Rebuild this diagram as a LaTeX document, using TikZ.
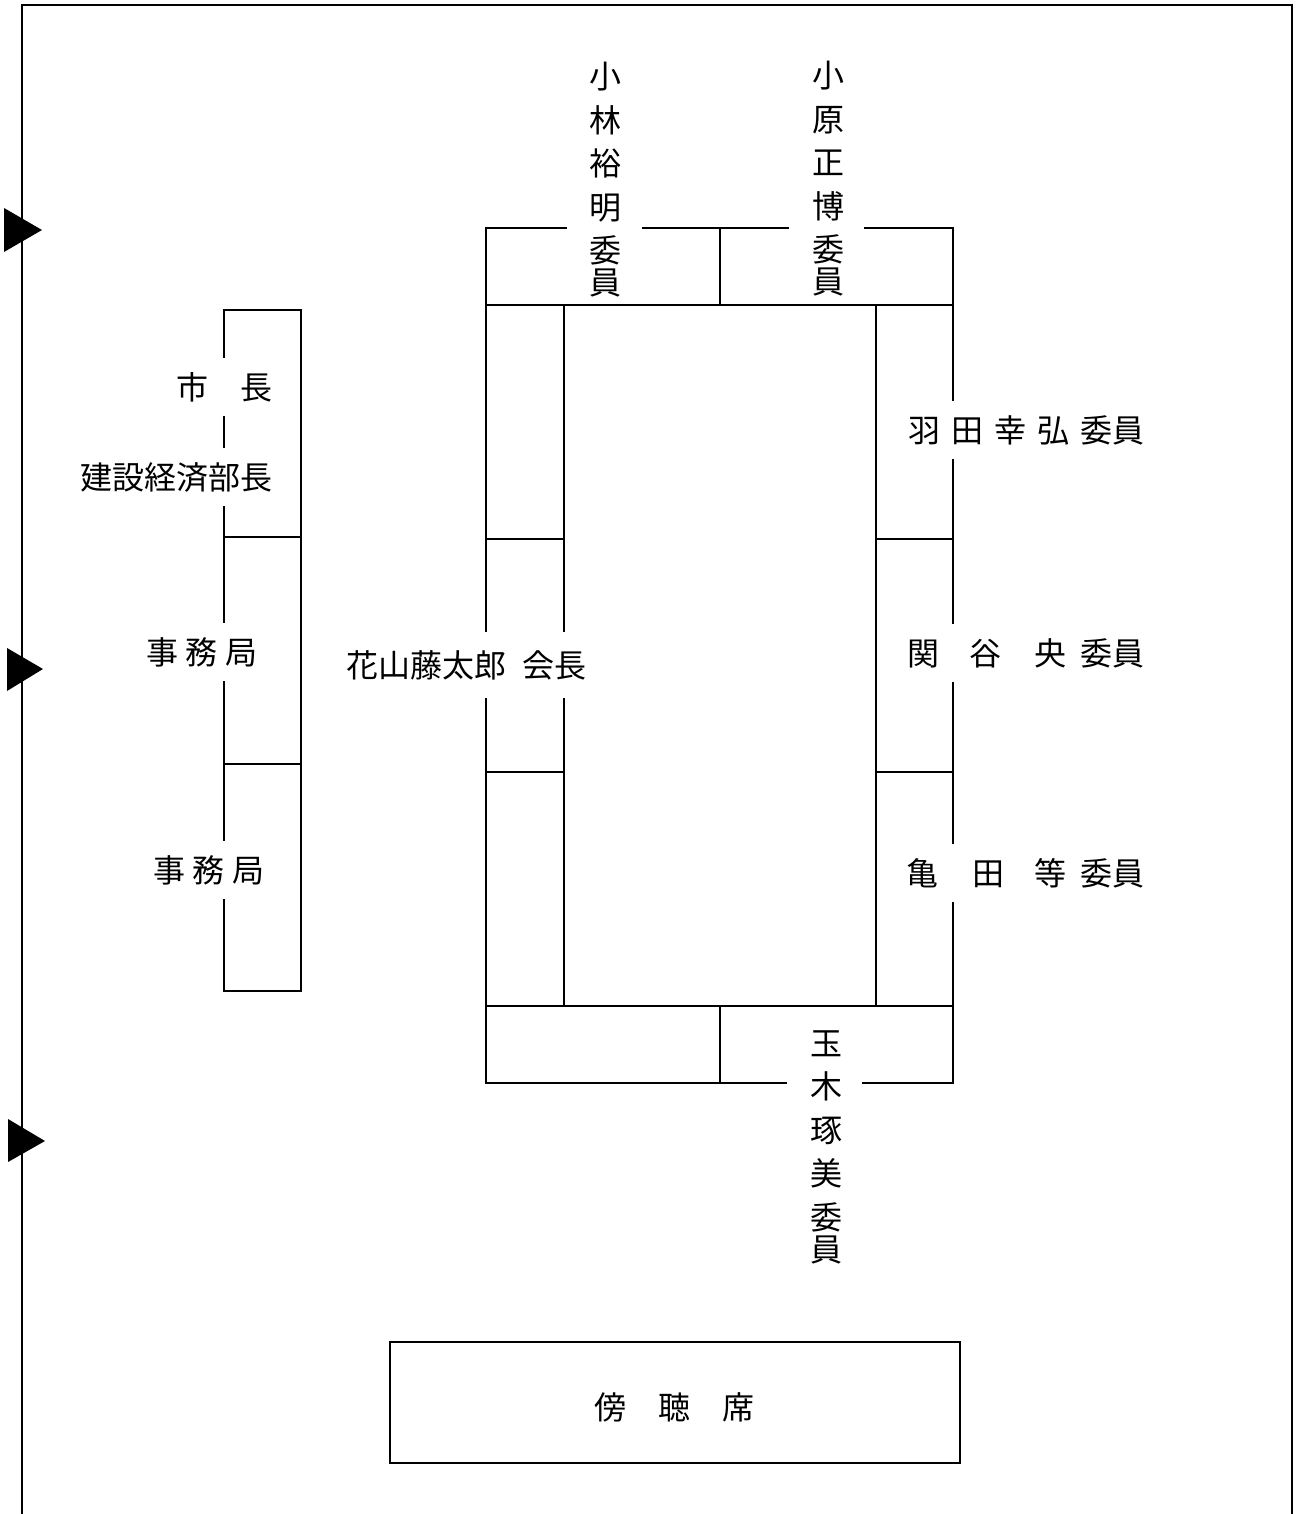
\documentclass[tikz,border=0pt]{standalone}
\usepackage{fontspec}
\newfontfamily\jp{Noto Sans CJK JP}
\begin{document}
\begin{tikzpicture}[x=1pt,y=-1pt, line width=1.6pt, line cap=rect,
  lab/.style={font=\jp\fontsize{32pt}{40pt}\selectfont, fill=white, inner xsep=6pt, inner ysep=14pt},
  vlab/.style={font=\jp\fontsize{32pt}{43.5pt}\selectfont, align=center, inner sep=0pt},
  plainlab/.style={font=\jp\fontsize{32pt}{40pt}\selectfont, inner sep=0pt}]
\useasboundingbox (0,0) rectangle (1299,1514);
% frame
\draw (22,1514) -- (22,5) -- (1292,5) -- (1292,1514);
% entrance markers
\fill (4,208) -- (42,230) -- (4,252) -- cycle;
\fill (7,648) -- (43,669) -- (7,691) -- cycle;
\fill (8,1119) -- (45,1141) -- (8,1162) -- cycle;
% left table
\draw (224,310) rectangle (301,991);
\draw (224,537) -- (301,537);
\draw (224,764) -- (301,764);
% main table
\draw (486,228) -- (486,1083);
\draw (953,228) -- (953,1083);
\draw (486,228) -- (566,228);
\draw (643,228) -- (788,228);
\draw (865,228) -- (953,228);
\draw (720,228) -- (720,305);
\draw (486,305) -- (953,305);
\draw (564,305) rectangle (876,1006);
\draw (486,1006) -- (953,1006);
\draw (486,539) -- (564,539);
\draw (486,772) -- (564,772);
\draw (876,539) -- (953,539);
\draw (876,772) -- (953,772);
\draw (720,1006) -- (720,1083);
\draw (486,1083) -- (786,1083);
\draw (863,1083) -- (953,1083);
% audience box
\draw (390,1342) rectangle (960,1463);
% labels
\node[vlab] (kobayashi) at (605,180) {小\\林\\裕\\明\\委\\[-11.5pt]員};
\node[vlab] (ohara) at (828,179) {小\\原\\正\\博\\委\\[-11.5pt]員};
\node[vlab] (tamaki) at (826,1147) {玉\\木\\琢\\美\\委\\[-11.5pt]員};
\node[lab, anchor=east] (mayor) at (279,387) {市　長};
\node[lab, anchor=east] (bucho) at (279,477) {建設経済部長};
\node[lab] (jimu1) at (202,652) {事\hspace{7.5pt}務\hspace{7.5pt}局};
\node[lab] (jimu2) at (209,870) {事\hspace{7.5pt}務\hspace{7.5pt}局};
\node[lab, inner ysep=18pt] (chair) at (466,665) {花山藤太郎\hspace{16pt}会長};
\node[lab, anchor=west] (haneda) at (902,430) {羽\hspace{11pt}田\hspace{11pt}幸\hspace{11pt}弘\hspace{11pt}委員};
\node[lab, anchor=west] (sekiya) at (901,653) {関\hspace{30pt}谷\hspace{33pt}央\hspace{14pt}委員};
\node[lab, anchor=west] (kameda) at (900,873) {亀\hspace{34pt}田\hspace{30pt}等\hspace{14pt}委員};
\node[plainlab] (bocho) at (674,1407) {傍　聴　席};
\end{tikzpicture}
\end{document}
